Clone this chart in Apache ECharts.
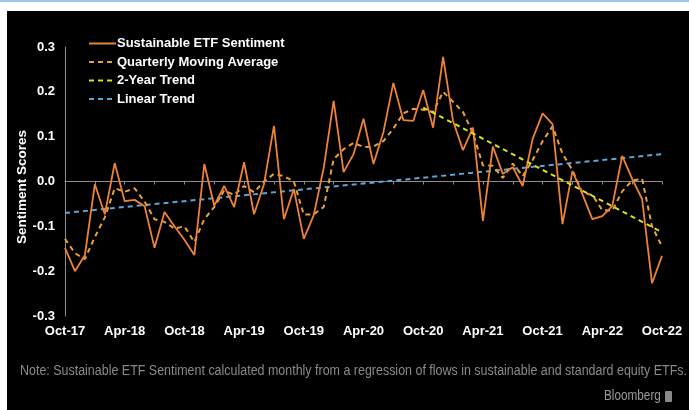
<!DOCTYPE html>
<html>
<head>
<meta charset="utf-8">
<script src="https://cdn.jsdelivr.net/npm/echarts@6/dist/echarts.min.js"></script>
<style>
  html, body { margin: 0; padding: 0; background: #ffffff; }
  #chart { width: 689px; height: 410px; }
</style>
</head>
<body>
<div id="chart"></div>
<script>
// Monthly categories, Oct-17 .. Oct-22
const months = [
  'Oct-17','Nov-17','Dec-17','Jan-18','Feb-18','Mar-18','Apr-18','May-18','Jun-18','Jul-18','Aug-18','Sep-18',
  'Oct-18','Nov-18','Dec-18','Jan-19','Feb-19','Mar-19','Apr-19','May-19','Jun-19','Jul-19','Aug-19','Sep-19',
  'Oct-19','Nov-19','Dec-19','Jan-20','Feb-20','Mar-20','Apr-20','May-20','Jun-20','Jul-20','Aug-20','Sep-20',
  'Oct-20','Nov-20','Dec-20','Jan-21','Feb-21','Mar-21','Apr-21','May-21','Jun-21','Jul-21','Aug-21','Sep-21',
  'Oct-21','Nov-21','Dec-21','Jan-22','Feb-22','Mar-22','Apr-22','May-22','Jun-22','Jul-22','Aug-22','Sep-22',
  'Oct-22'
];

// Sustainable ETF sentiment score, monthly
const sentiment = [
  -0.148, -0.200, -0.164, -0.006, -0.073,  0.041, -0.044, -0.041, -0.055, -0.148, -0.068, -0.100,
  -0.130, -0.164,  0.039, -0.054, -0.010, -0.057,  0.043, -0.073, -0.006,  0.124, -0.084, -0.017,
  -0.128, -0.075,  0.030,  0.180,  0.021,  0.061,  0.140,  0.039,  0.110,  0.220,  0.137,  0.135,
   0.204,  0.120,  0.278,  0.135,  0.070,  0.120, -0.088,  0.078,  0.017,  0.032, -0.010,  0.095,
   0.152,  0.128, -0.095,  0.023, -0.028, -0.084, -0.077, -0.055,  0.057,  0.006, -0.039, -0.227,
  -0.166
];

// Quarterly moving average
const movingAvg = [
  -0.128, -0.160, -0.173, -0.124, -0.080, -0.015, -0.023, -0.015, -0.045, -0.084, -0.090, -0.105,
  -0.100, -0.135, -0.084, -0.057, -0.020, -0.030, -0.010, -0.024,  0.000,  0.017,  0.012,  0.000,
  -0.074, -0.073, -0.057,  0.050,  0.072,  0.086,  0.077,  0.078,  0.090,  0.118,  0.152,  0.162,
   0.160,  0.155,  0.200,  0.178,  0.155,  0.108,  0.036,  0.035,  0.008,  0.040,  0.012,  0.048,
   0.090,  0.123,  0.062,  0.025, -0.025, -0.030, -0.064, -0.065, -0.022,  0.002,  0.006, -0.100,
  -0.145
];

// 2-year trend: Oct-20 .. Oct-22 endpoints
const twoYearTrendStart = { month: 'Oct-20', value: 0.165 };
const twoYearTrendEnd   = { month: 'Oct-22', value: -0.113 };

// Linear trend over the full period: endpoints
const linearTrendStart = { month: 'Oct-17', value: -0.070 };
const linearTrendEnd   = { month: 'Oct-22', value: 0.061 };

// Y-axis range and step
const yMin = -0.3, yMax = 0.3, yStep = 0.1;

const seriesNames = ['Sustainable ETF Sentiment', 'Quarterly Moving Average', '2-Year Trend', 'Linear Trend'];
const yAxisTitle = 'Sentiment Scores';
const noteText = 'Note: Sustainable ETF Sentiment calculated monthly from a regression of flows in sustainable and standard equity ETFs.';
const sourceText = 'Bloomberg';

function endpointsSeries(start, end) {
  return months.map(m => m === start.month ? start.value : (m === end.month ? end.value : null));
}

const chart = echarts.init(document.getElementById('chart'), null, { renderer: 'canvas' });

const labelFont = { color: '#ffffff', fontFamily: 'Liberation Sans, Arial, sans-serif', fontWeight: 'bold', fontSize: 13 };

chart.setOption({
  backgroundColor: '#000000',
  animation: false,
  grid: { left: 65, right: 27, top: 47, bottom: 94 },
  legend: {
    data: seriesNames,
    orient: 'vertical',
    left: 83,
    top: 32,
    itemWidth: 27,
    itemHeight: 14,
    itemGap: 5.5,
    itemStyle: { opacity: 0 },
    textStyle: Object.assign({}, labelFont, { padding: [0, 0, 0, -4] })
  },
  xAxis: [
    {
      type: 'category',
      data: months,
      boundaryGap: false,
      axisLine: { onZero: true, lineStyle: { color: '#8c8c8c', width: 1 } },
      axisTick: { show: true, interval: 2, length: 3, lineStyle: { color: '#8c8c8c' } },
      axisLabel: { show: false },
      splitLine: { show: false }
    },
    {
      type: 'category',
      data: months,
      boundaryGap: false,
      position: 'bottom',
      axisLine: { show: false },
      axisTick: { show: false },
      axisLabel: Object.assign({ interval: 5, margin: 9 }, labelFont),
      splitLine: { show: false }
    }
  ],
  yAxis: {
    type: 'value',
    min: yMin,
    max: yMax,
    interval: yStep,
    axisLine: { show: true, lineStyle: { color: '#8c8c8c', width: 1 } },
    axisTick: { show: false },
    splitLine: { show: false },
    axisLabel: Object.assign({ margin: 10, formatter: v => v.toFixed(1) }, labelFont)
  },
  series: [
    {
      name: seriesNames[0],
      type: 'line',
      data: sentiment,
      symbol: 'none',
      lineStyle: { color: '#ee8236', width: 1.8 },
      itemStyle: { color: '#ee8236' },
      z: 4
    },
    {
      name: seriesNames[1],
      type: 'line',
      data: movingAvg,
      symbol: 'none',
      lineStyle: { color: '#e8a13c', width: 2, type: [5, 4] },
      itemStyle: { color: '#e8a13c' },
      z: 3
    },
    {
      name: seriesNames[2],
      type: 'line',
      data: endpointsSeries(twoYearTrendStart, twoYearTrendEnd),
      connectNulls: true,
      symbol: 'none',
      lineStyle: { color: '#d6e11f', width: 2, type: [5, 4] },
      itemStyle: { color: '#d6e11f' },
      z: 5
    },
    {
      name: seriesNames[3],
      type: 'line',
      data: endpointsSeries(linearTrendStart, linearTrendEnd),
      connectNulls: true,
      symbol: 'none',
      lineStyle: { color: '#5fa5da', width: 2, type: [5, 4] },
      itemStyle: { color: '#5fa5da' },
      z: 2
    }
  ],
  graphic: [
    // white page margin above and to the left of the dark panel
    { type: 'rect', left: 0, top: 0, shape: { width: 689, height: 11 }, style: { fill: '#ffffff' }, silent: true },
    { type: 'rect', left: 0, top: 0, shape: { width: 7, height: 410 }, style: { fill: '#ffffff' }, silent: true },
    { type: 'rect', left: 0, top: 0, shape: { width: 689, height: 2 }, style: { fill: '#9cc7e6' }, silent: true },
    // rotated y-axis title
    {
      type: 'text', x: 22, y: 187, rotation: Math.PI / 2,
      style: {
        text: yAxisTitle, fill: '#ffffff', align: 'center', verticalAlign: 'middle',
        font: 'bold 13.5px "Liberation Sans", Arial, sans-serif'
      }
    },
    {
      type: 'text', x: 20, y: 364, scaleX: 0.89,
      style: { text: noteText, fill: '#8a8a8a', font: '14px "Liberation Sans", Arial, sans-serif' }
    },
    {
      type: 'text', x: 604, y: 389, scaleX: 0.84,
      style: { text: sourceText, fill: '#9a9a9a', font: '14px "Liberation Sans", Arial, sans-serif' }
    },
    { type: 'rect', x: 665, y: 391, shape: { width: 7, height: 11, r: 1 }, style: { fill: '#8a8a8a' } }
  ]
});
</script>
</body>
</html>
